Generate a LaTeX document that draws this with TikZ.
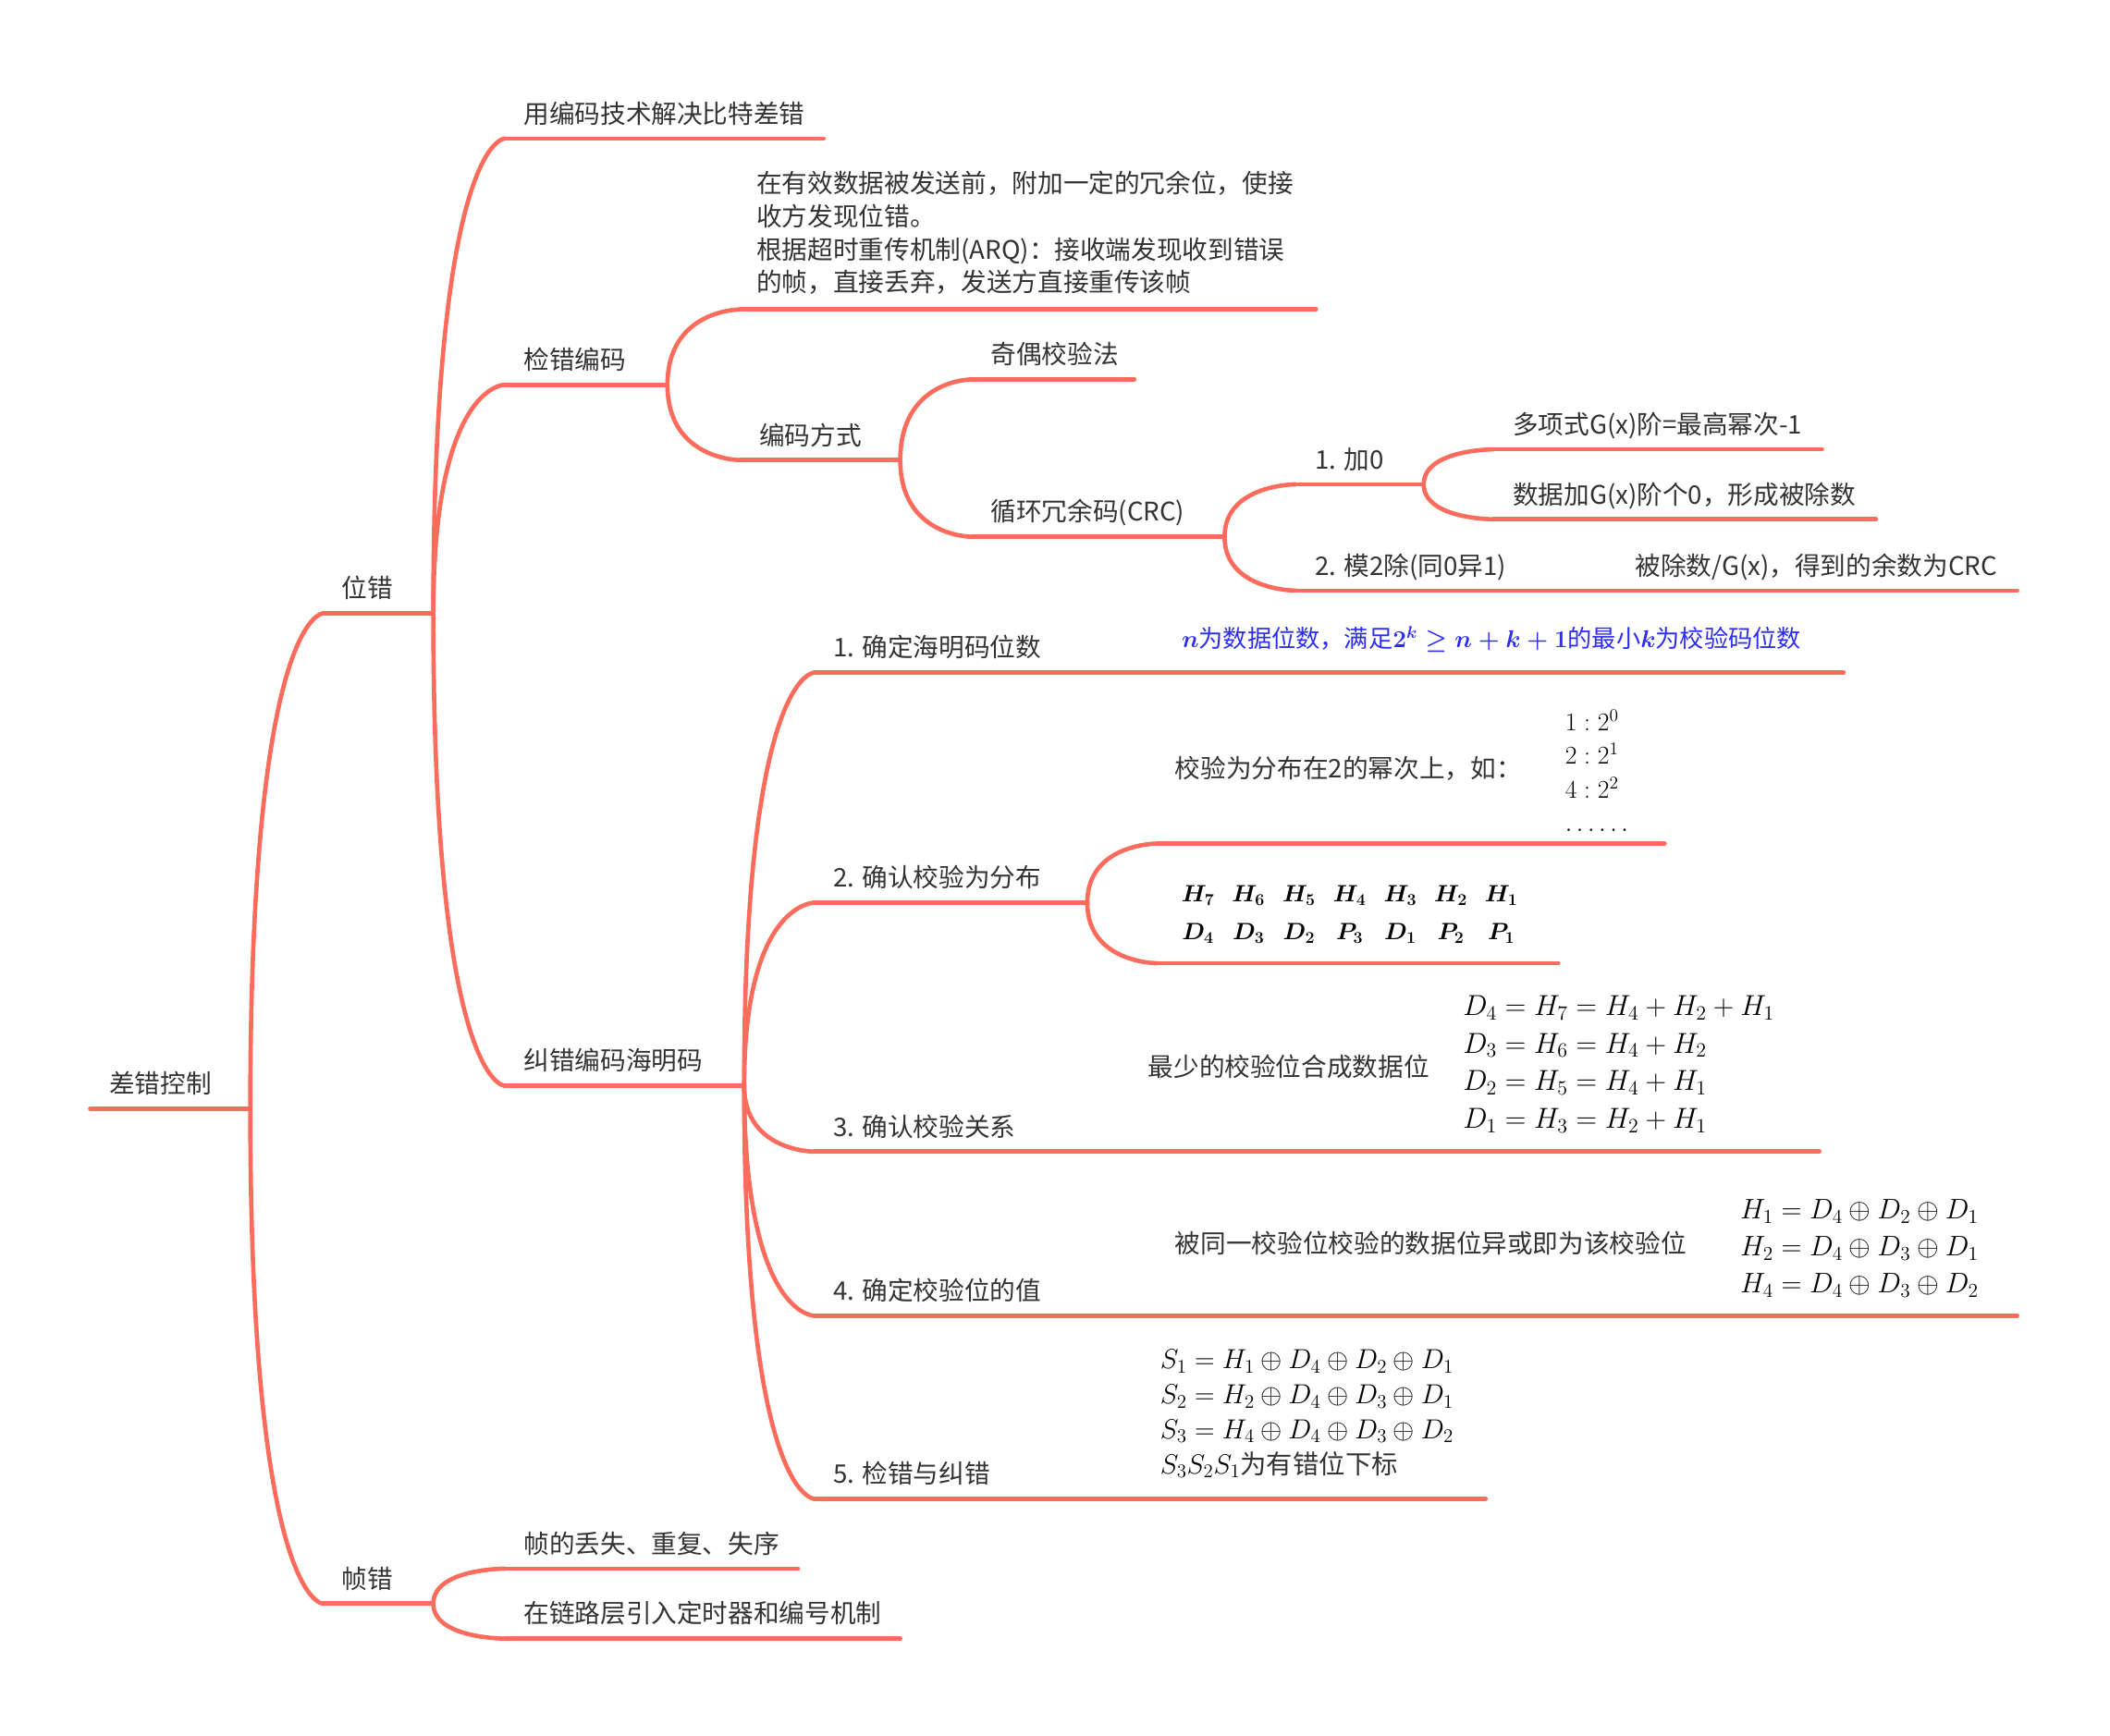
\RequirePackage{fix-cm}
\documentclass[tikz,border=0pt]{standalone}
\usepackage{amsmath,bm}
\usepackage[no-math]{fontspec}
\setmainfont{Noto Sans CJK SC}
\usetikzlibrary{calc}

\definecolor{branchcol}{RGB}{252,108,92}
\definecolor{textcol}{RGB}{51,51,51}
\definecolor{notecol}{RGB}{45,45,245}

\tikzset{
  branch/.style={draw=branchcol, line width=3.2pt, line cap=round},
  topic/.style={anchor=base west, inner sep=0pt, text=textcol,
    font=\fontsize{19}{24.7}\selectfont},
  note/.style={anchor=west, inner sep=0pt, text=textcol, align=left},
  formula/.style={anchor=west, inner sep=0pt, text=black, align=left},
}

% underline of a topic: name, from x, to x, at y
\newcommand{\topicline}[4]{%
  \coordinate (#1-l) at (#2,#4);
  \coordinate (#1-r) at (#3,#4);
  \draw[branch] (#1-l) -- (#1-r);}
% underline with its label
\newcommand{\topic}[5]{%
  \topicline{#1}{#2}{#3}{#4}
  \node[topic] (#1) at ($(#1-l)+(14,-11.5)$) {#5};}
% curved connector from parent to child
\newcommand{\branchto}[2]{%
  \draw[branch] (#1-r) .. controls (#1-r |- #2-l) and (#2-l) .. (#2-l);}

\begin{document}
\begin{tikzpicture}[x=1pt, y=-1pt]
\useasboundingbox (0,0) rectangle (1568,1290);

% root
\topic{root}{67}{186}{824}{差错控制}
\topic{biterr}{240}{322}{456}{位错}
\topic{frameerr}{240}{322}{1192}{帧错}
\branchto{root}{biterr}
\branchto{root}{frameerr}

% bit errors
\topic{usecode}{375}{612}{103}{用编码技术解决比特差错}
\topic{detect}{375}{496}{286}{检错编码}
\topic{hamming}{375}{553}{807}{纠错编码海明码}
\branchto{biterr}{usecode}
\branchto{biterr}{detect}
\branchto{biterr}{hamming}

% error detection
\topicline{desc}{550}{978}{230}
\node[note, font=\fontsize{19}{24.7}\selectfont] (desctext) at (562,173)
  {在有效数据被发送前，附加一定的冗余位，使接\\收方发现位错。\\根据超时重传机制(ARQ)：接收端发现收到错误\\的帧，直接丢弃，发送方直接重传该帧};
\topic{method}{550}{669}{342}{编码方式}
\branchto{detect}{desc}
\branchto{detect}{method}

\topic{parity}{722}{843}{282}{奇偶校验法}
\topic{crc}{722}{910}{399}{循环冗余码(CRC)}
\branchto{method}{parity}
\branchto{method}{crc}

\topic{addzero}{963}{1058}{360}{1. 加0}
\topic{mod2}{963}{1150}{439}{2. 模2除(同0异1)}
\branchto{crc}{addzero}
\branchto{crc}{mod2}
\topic{remain}{1201}{1499}{439}{被除数/G(x)，得到的余数为CRC}
\draw[branch] (mod2-r) -- (remain-l);

\topic{gdeg}{1110}{1354}{334}{多项式G(x)阶=最高幂次-1}
\topic{append}{1110}{1394}{386}{数据加G(x)阶个0，形成被除数}
\branchto{addzero}{gdeg}
\branchto{addzero}{append}

% hamming code
\topic{stepA}{605}{810}{500}{1. 确定海明码位数}
\topic{stepB}{605}{808}{671}{2. 确认校验为分布}
\topic{stepC}{605}{790}{856}{3. 确认校验关系}
\topic{stepD}{605}{810}{978}{4. 确定校验位的值}
\topic{stepE}{605}{800}{1114}{5. 检错与纠错}
\branchto{hamming}{stepA}
\branchto{hamming}{stepB}
\branchto{hamming}{stepC}
\branchto{hamming}{stepD}
\branchto{hamming}{stepE}

\topicline{bits}{864}{1370}{500}
\node[anchor=base west, inner sep=0pt, text=notecol,
  font=\fontsize{18}{22}\selectfont\boldmath] (bitstext) at (878,481)
  {$n$为数据位数，满足$2^k\geq n+k+1$的最小$k$为校验码位数};
\draw[branch] (stepA-r) -- (bits-l);

\topicline{power}{860}{1237}{627}
\node[note, font=\fontsize{19}{24}\selectfont] (powertext) at (873,571) {校验为分布在2的幂次上，如：};
\node[formula, font=\fontsize{19}{25}\selectfont] (powers) at (1163,573)
  {$1:2^0$\\$2:2^1$\\$4:2^2$\\$\ldots\ldots$};
\topicline{hdtab}{860}{1158}{716}
\node[inner sep=0pt, text=black, font=\fontsize{17.5}{28}\selectfont] (hdtable) at (1003,679)
  {$\setlength{\arraycolsep}{6.5pt}\begin{array}{ccccccc}
    \bm{H_7} & \bm{H_6} & \bm{H_5} & \bm{H_4} & \bm{H_3} & \bm{H_2} & \bm{H_1}\\
    \bm{D_4} & \bm{D_3} & \bm{D_2} & \bm{P_3} & \bm{D_1} & \bm{P_2} & \bm{P_1}
  \end{array}$};
\branchto{stepB}{power}
\branchto{stepB}{hdtab}

\topicline{relation}{840}{1352}{856}
\node[note, font=\fontsize{19}{24}\selectfont] (relationtext) at (853,793) {最少的校验位合成数据位};
\node[formula, font=\fontsize{21.5}{28}\selectfont] (relationeq) at (1087,791)
  {$D_4=H_7=H_4+H_2+H_1$\\$D_3=H_6=H_4+H_2$\\$D_2=H_5=H_4+H_1$\\$D_1=H_3=H_2+H_1$};
\draw[branch] (stepC-r) -- (relation-l);

\topicline{xorval}{860}{1499}{978}
\node[note, font=\fontsize{19}{24}\selectfont] (xorvaltext) at (873,924) {被同一校验位校验的数据位异或即为该校验位};
\node[formula, font=\fontsize{21}{27.5}\selectfont] (xorvaleq) at (1293,928)
  {$H_1=D_4\oplus D_2\oplus D_1$\\$H_2=D_4\oplus D_3\oplus D_1$\\$H_4=D_4\oplus D_3\oplus D_2$};
\draw[branch] (stepD-r) -- (xorval-l);

\topicline{syndrome}{848}{1104}{1114}
\node[formula, font=\fontsize{20.5}{26}\selectfont] (syndromeeq) at (862,1051)
  {$S_1=H_1\oplus D_4\oplus D_2\oplus D_1$\\$S_2=H_2\oplus D_4\oplus D_3\oplus D_1$\\$S_3=H_4\oplus D_4\oplus D_3\oplus D_2$\\$S_3S_2S_1${\fontsize{19.5}{26}\selectfont\color{textcol} 为有错位下标}};
\draw[branch] (stepE-r) -- (syndrome-l);

% frame errors
\topic{lost}{375}{593}{1166}{帧的丢失、重复、失序}
\topic{timer}{375}{669}{1218}{在链路层引入定时器和编号机制}
\branchto{frameerr}{lost}
\branchto{frameerr}{timer}
\end{tikzpicture}
\end{document}
